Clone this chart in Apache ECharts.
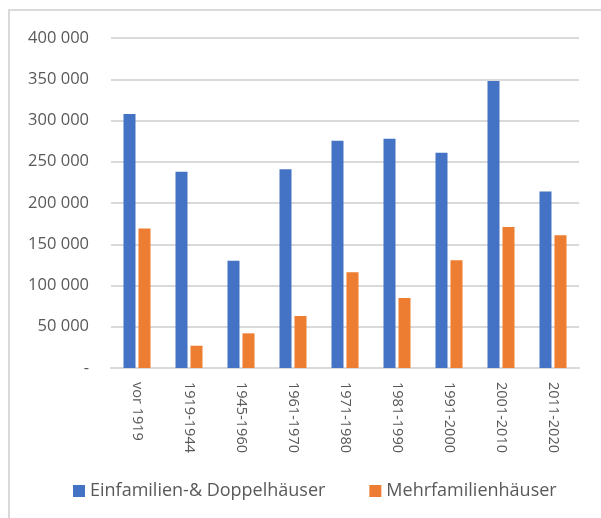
<!DOCTYPE html>
<html>
<head>
<meta charset="utf-8">
<script src="https://cdn.jsdelivr.net/npm/echarts@6/dist/echarts.min.js"></script>
<style>
  html, body { margin: 0; padding: 0; background: #fff; }
  #chart { width: 601px; height: 518px; }
</style>
</head>
<body>
<div id="chart"></div>
<script>
// data
var categories = ['vor 1919', '1919-1944', '1945-1960', '1961-1970', '1971-1980',
                  '1981-1990', '1991-2000', '2001-2010', '2011-2020'];
var einfamilien = [308000, 238000, 130000, 241000, 275500, 278000, 261000, 348000, 214000];
var mehrfamilien = [169000, 27000, 42000, 63000, 116000, 85000, 130500, 171000, 161000];
var seriesNames = ['Einfamilien-& Doppelhäuser', 'Mehrfamilienhäuser'];

var textGray = '#595959';
var gridGray = '#d9d9d9';
var font = '"Open Sans", "Noto Sans", sans-serif';

function fmt(v) {
	if (v === 0) { return '-'; }
	return String(v).replace(/\B(?=(\d{3})+(?!\d))/g, ' ');
}

var chart = echarts.init(document.getElementById('chart'));
chart.setOption({
	animation: false,
	textStyle: { fontFamily: font },
	graphic: [{
		type: 'rect',
		shape: { x: 9, y: 10, width: 700, height: 600 },
		style: { fill: 'none', stroke: gridGray, lineWidth: 2 },
		silent: true
	}],
	grid: { left: 111, right: 22, top: 38, bottom: 150 },
	legend: {
		left: 68,
		top: 477,
		icon: 'rect',
		itemWidth: 12,
		itemHeight: 12,
		itemGap: 44,
		textStyle: { color: textGray, fontSize: 18, fontFamily: font },
		data: seriesNames
	},
	xAxis: {
		type: 'category',
		data: categories,
		axisLine: { lineStyle: { color: gridGray, width: 2 } },
		axisTick: { show: false },
		axisLabel: {
			rotate: -90,
			margin: 14,
			color: textGray,
			fontSize: 14.5,
			fontFamily: font,
			interval: 0
		}
	},
	yAxis: {
		type: 'value',
		min: 0,
		max: 400000,
		interval: 50000,
		axisLine: { show: false },
		axisTick: { show: false },
		splitLine: { lineStyle: { color: gridGray, width: 2 } },
		axisLabel: {
			color: textGray,
			fontSize: 16.5,
			margin: 22,
			fontFamily: font,
			formatter: fmt
		}
	},
	series: [{
		name: seriesNames[0],
		type: 'bar',
		data: einfamilien,
		barWidth: 12,
		barGap: '25%',
		itemStyle: { color: '#4472c4' }
	}, {
		name: seriesNames[1],
		type: 'bar',
		data: mehrfamilien,
		barWidth: 12,
		itemStyle: { color: '#ed7d31' }
	}]
});
</script>
</body>
</html>
